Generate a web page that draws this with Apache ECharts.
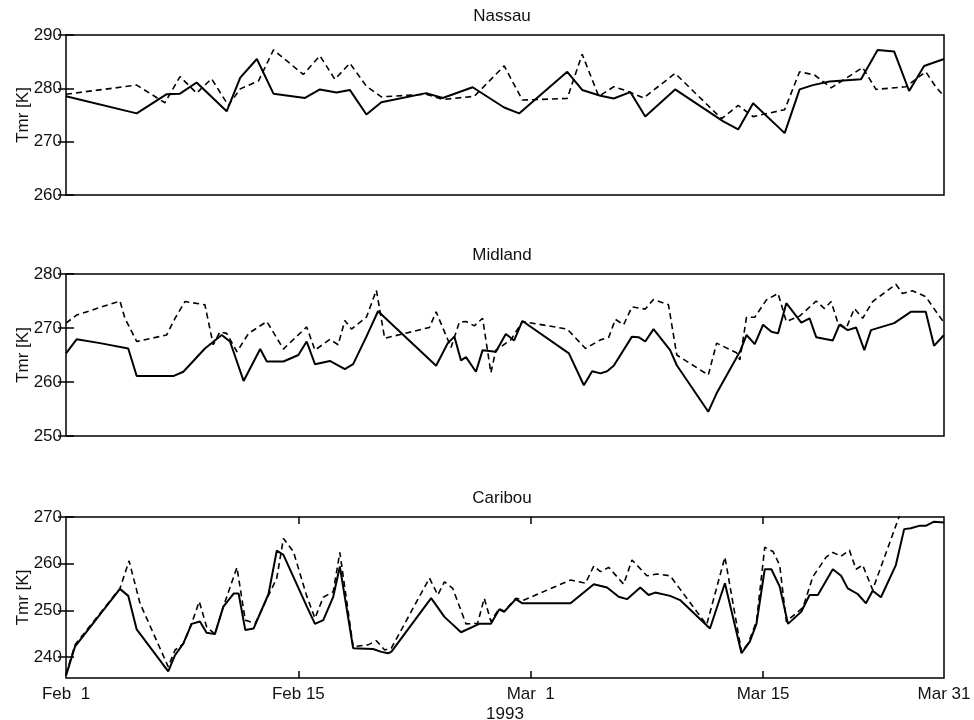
<!DOCTYPE html>
<html>
<head>
<meta charset="utf-8">
<script src="https://cdn.jsdelivr.net/npm/echarts@6/dist/echarts.min.js"></script>
<style>
  html, body { margin: 0; padding: 0; background: #fff; }
  #chart { width: 974px; height: 720px; }
</style>
</head>
<body>
<div id="chart"></div>
<script>
// x = days from Feb 1 1993, as the original axis is scaled
const tickDays = [0, 14, 28, 42, 52.9];
const tickLabels = ['Feb  1', 'Feb 15', 'Mar  1', 'Mar 15', 'Mar 31'];
const xMax = 52.9;

const stations = ['Nassau', 'Midland', 'Caribou'];
const yMins = [260, 250, 235.5];
const yMaxs = [290, 280, 270];
const yTicks = [[260, 270, 280, 290], [250, 260, 270, 280], [240, 250, 260, 270]];

const nassauSolid = [
  [0, 278.5], [4.26, 275.3], [6.07, 278.9], [6.87, 279.0], [7.87, 281.1], [9.68, 275.7],
  [10.5, 282.0], [11.5, 285.5], [12.5, 279.0], [14.4, 278.2], [15.3, 279.8], [16.3, 279.2],
  [17.1, 279.7], [18.1, 275.1], [19.0, 277.4], [21.7, 279.1], [22.7, 278.2], [24.5, 280.2],
  [26.4, 276.4], [27.3, 275.3], [30.2, 283.1], [31.1, 279.7], [32.2, 278.6], [33.0, 278.1],
  [34.0, 279.3], [34.9, 274.7], [36.7, 279.8], [39.6, 273.8], [40.5, 272.3], [41.4, 277.2],
  [43.3, 271.6], [44.2, 279.8], [45.0, 280.6], [46.0, 281.3], [47.9, 281.7], [48.9, 287.2],
  [49.9, 286.9], [50.8, 279.5], [51.7, 284.2], [52.9, 285.5]
];
const nassauDashed = [
  [0, 278.9], [4.26, 280.6], [5.96, 277.3], [6.87, 282.2], [7.87, 279.1], [8.77, 281.8],
  [9.78, 276.8], [10.5, 279.9], [11.6, 281.4], [12.5, 287.2], [14.3, 282.6], [15.3, 286.1],
  [16.2, 281.7], [17.1, 284.7], [18.1, 280.4], [19.0, 278.4], [21.7, 278.9], [22.7, 277.9],
  [24.6, 278.5], [26.4, 284.2], [27.5, 277.8], [30.2, 278.1], [31.1, 286.4], [32.1, 278.5],
  [33.0, 280.3], [33.8, 279.5], [34.8, 278.2], [36.7, 282.8], [39.5, 274.3], [40.5, 276.8],
  [41.4, 274.7], [43.3, 276.0], [44.2, 283.1], [45.1, 282.5], [46.1, 280.1], [48.0, 283.9],
  [48.8, 279.8], [50.6, 280.3], [51.8, 283.1], [52.4, 280.3], [52.9, 278.5]
];

const midlandSolid = [
  [0, 265.3], [0.64, 267.9], [2.05, 267.2], [3.75, 266.2], [4.26, 261.1], [6.46, 261.1],
  [7.07, 261.9], [8.37, 266.2], [9.38, 268.7], [9.88, 267.5], [10.7, 260.2], [11.7, 266.1],
  [12.1, 263.8], [13.1, 263.8], [14.0, 265.0], [14.5, 267.5], [15.0, 263.3], [15.9, 263.9],
  [16.8, 262.4], [17.3, 263.3], [18.1, 268.4], [18.8, 273.1], [22.3, 263.0], [23.0, 267.2],
  [23.4, 268.4], [23.8, 264.0], [24.1, 264.6], [24.7, 261.9], [25.1, 265.9], [25.9, 265.6],
  [26.5, 268.9], [27.0, 267.7], [27.5, 271.3], [30.3, 265.3], [31.2, 259.4], [31.7, 262.0],
  [32.2, 261.6], [32.6, 262.0], [33.0, 263.0], [34.1, 268.4], [34.5, 268.3], [34.9, 267.5],
  [35.4, 269.8], [36.4, 265.9], [36.8, 263.1], [38.7, 254.5], [39.2, 257.9], [40.6, 265.6],
  [41.0, 268.7], [41.5, 267.0], [42.0, 270.6], [42.5, 269.3], [42.9, 269.0], [43.4, 274.6],
  [44.3, 271.0], [44.8, 271.8], [45.2, 268.3], [46.2, 267.7], [46.6, 270.6], [47.1, 269.6],
  [47.6, 270.1], [48.1, 265.9], [48.5, 269.6], [49.9, 270.9], [50.9, 273.0], [51.8, 273.0],
  [52.3, 266.7], [52.9, 268.7]
];
const midlandDashed = [
  [0, 270.9], [0.64, 272.4], [3.25, 275.0], [3.55, 271.8], [4.26, 267.5], [6.06, 268.7],
  [6.57, 271.8], [7.17, 274.9], [8.37, 274.3], [8.87, 266.9], [9.28, 269.3], [9.68, 269.0],
  [10.3, 265.6], [11.0, 269.0], [12.1, 271.2], [13.1, 266.1], [14.5, 270.2], [15.0, 265.9],
  [15.9, 267.9], [16.4, 266.9], [16.8, 271.4], [17.2, 269.8], [18.1, 272.0], [18.7, 277.0],
  [19.2, 268.1], [21.9, 270.1], [22.3, 273.0], [23.2, 266.4], [23.7, 271.1], [24.1, 271.2],
  [24.6, 270.4], [25.1, 271.8], [25.6, 261.7], [25.9, 265.9], [26.8, 267.8], [27.5, 271.2],
  [30.2, 269.8], [31.3, 266.2], [32.2, 267.8], [32.7, 268.3], [33.1, 271.6], [33.6, 270.6],
  [34.1, 273.9], [34.9, 273.5], [35.4, 275.3], [36.3, 274.3], [36.8, 265.0], [38.7, 261.3],
  [39.2, 267.2], [40.4, 265.4], [40.6, 264.1], [41.0, 272.0], [41.5, 272.0], [42.2, 275.2],
  [42.9, 276.4], [43.4, 271.2], [44.2, 272.2], [45.2, 275.0], [45.7, 273.6], [46.1, 274.9],
  [46.5, 271.0], [47.0, 269.9], [47.5, 273.6], [48.0, 271.8], [48.6, 274.9], [50.0, 278.1],
  [50.4, 276.4], [51.0, 276.9], [51.8, 275.8], [52.5, 272.7], [52.9, 271.0]
];

const caribouSolid = [
  [0, 236.0], [0.54, 242.2], [3.25, 254.6], [3.75, 253.1], [4.26, 245.9], [6.16, 236.9],
  [6.57, 240.4], [7.07, 242.9], [7.57, 247.1], [8.07, 247.6], [8.47, 245.2], [8.97, 244.9],
  [9.48, 250.8], [10.1, 253.6], [10.4, 253.6], [10.8, 245.8], [11.3, 246.1], [12.2, 253.5],
  [12.7, 262.8], [13.1, 261.9], [14.5, 250.9], [15.0, 247.1], [15.5, 247.9], [16.1, 252.9],
  [16.5, 259.4], [17.3, 241.9], [18.5, 241.7], [19.0, 241.1], [19.4, 240.8], [19.6, 241.1],
  [22.0, 252.6], [22.8, 248.6], [23.8, 245.3], [24.9, 247.1], [25.6, 247.1], [26.1, 250.2],
  [26.4, 249.7], [27.1, 252.4], [27.5, 251.5], [30.4, 251.5], [31.8, 255.6], [32.6, 254.9],
  [33.3, 252.9], [33.8, 252.4], [34.6, 254.9], [35.1, 253.3], [35.5, 253.8], [36.4, 253.1],
  [37.0, 252.2], [38.8, 246.1], [39.7, 255.8], [40.7, 240.8], [41.2, 243.3], [41.6, 247.1],
  [42.1, 258.8], [42.5, 258.8], [43.0, 255.1], [43.5, 247.1], [44.3, 249.7], [44.8, 253.3],
  [45.3, 253.3], [46.2, 258.8], [46.7, 257.4], [47.1, 254.7], [47.7, 253.5], [48.2, 251.5],
  [48.6, 254.2], [49.1, 252.8], [50.0, 259.7], [50.5, 267.4], [50.9, 267.6], [51.4, 268.1],
  [51.8, 268.1], [52.3, 269.0], [52.9, 268.8]
];
const caribouDashed = [
  [0, 236.3], [0.54, 242.6], [3.25, 254.7], [3.8, 260.6], [4.46, 251.5], [6.16, 237.9],
  [6.57, 241.5], [7.07, 242.8], [7.57, 247.2], [8.03, 251.9], [8.47, 246.5], [8.97, 244.9],
  [9.48, 250.8], [10.3, 259.2], [10.8, 247.9], [11.4, 247.2], [12.2, 253.2], [12.7, 256.9],
  [13.1, 265.4], [13.7, 262.6], [14.5, 253.1], [15.0, 248.3], [15.5, 252.8], [16.1, 254.0],
  [16.5, 262.4], [17.3, 242.2], [18.2, 242.6], [18.7, 243.5], [19.2, 241.5], [19.6, 241.9],
  [21.9, 256.9], [22.4, 253.3], [22.8, 256.1], [23.3, 254.7], [24.1, 247.1], [24.8, 247.2],
  [25.2, 252.6], [25.6, 247.6], [26.1, 250.4], [26.4, 249.8], [27.1, 252.6], [27.6, 252.2],
  [30.4, 256.5], [31.3, 255.8], [31.8, 259.5], [32.2, 258.3], [32.7, 259.2], [33.6, 255.6],
  [34.1, 260.8], [35.0, 257.4], [35.6, 257.8], [36.4, 257.4], [38.6, 246.9], [39.7, 261.4],
  [40.7, 241.1], [41.1, 242.9], [41.6, 247.6], [42.1, 263.5], [42.6, 262.6], [43.0, 259.7],
  [43.4, 247.6], [44.4, 250.6], [45.0, 257.2], [45.8, 261.4], [46.2, 262.4], [46.7, 261.6],
  [47.2, 262.9], [47.6, 258.8], [48.0, 259.7], [48.6, 254.4], [50.2, 270.1], [50.9, 276.0]
];

const solidSets = [nassauSolid, midlandSolid, caribouSolid];
const dashedSets = [nassauDashed, midlandDashed, caribouDashed];

const font = "'Liberation Sans', Arial, sans-serif";
const ink = '#111';
const gridTops = [35, 274, 517];
const gridHeights = [160, 162, 161];
const titleTops = [3, 242, 485];

const chart = echarts.init(document.getElementById('chart'));

const grid = [], xAxis = [], yAxis = [], series = [], title = [];

stations.forEach((name, i) => {
  const last = i === 2;
  grid.push({
    left: 66, right: 30, top: gridTops[i], height: gridHeights[i],
    containLabel: false, outerBoundsMode: 'none',
    show: true, borderColor: '#000', borderWidth: 1.5
  });
  title.push({
    text: name, left: 497, top: titleTops[i], textAlign: 'center',
    textStyle: { fontFamily: font, fontSize: 17, fontWeight: 'normal', color: ink }
  });
  // bottom x axis
  xAxis.push({
    type: 'value', gridIndex: i, min: 0, max: xMax,
    axisLine: { show: false },
    splitLine: { show: false },
    axisTick: { show: last, inside: true, length: 7, lineStyle: { color: '#000', width: 1.5 },
      customValues: tickDays.slice(1, 4) },
    axisLabel: {
      show: last, customValues: tickDays, margin: 8,
      fontFamily: font, fontSize: 17, color: ink,
      formatter: v => tickLabels[tickDays.indexOf(v)] || ''
    },
    name: last ? '1993' : '', nameLocation: 'middle', nameGap: 28, nameMoveOverlap: false,
    nameTextStyle: { fontFamily: font, fontSize: 17, color: ink }
  });
  // top x axis, ticks only
  xAxis.push({
    type: 'value', gridIndex: i, position: 'top', min: 0, max: xMax,
    axisLine: { show: false }, splitLine: { show: false }, axisLabel: { show: false },
    axisTick: { show: last, inside: true, length: 7, lineStyle: { color: '#000', width: 1.5 },
      customValues: tickDays.slice(1, 4) }
  });
  yAxis.push({
    type: 'value', gridIndex: i, min: yMins[i], max: yMaxs[i],
    axisLine: { show: false }, splitLine: { show: false },
    axisTick: { show: true, inside: true, length: 8, lineStyle: { color: '#000', width: 1.5 },
      customValues: yTicks[i] },
    axisLabel: { customValues: yTicks[i], margin: 4, fontFamily: font, fontSize: 17, color: ink },
    name: 'Tmr [K]', nameLocation: 'middle', nameGap: 34, nameMoveOverlap: false,
    nameTextStyle: { fontFamily: font, fontSize: 17, color: ink }
  });
  yAxis.push({
    type: 'value', gridIndex: i, position: 'right', min: yMins[i], max: yMaxs[i],
    axisLine: { show: false }, splitLine: { show: false }, axisLabel: { show: false },
    axisTick: { show: true, inside: true, length: 8, lineStyle: { color: '#000', width: 1.5 },
      customValues: yTicks[i] }
  });
  series.push({
    type: 'line', xAxisIndex: i * 2, yAxisIndex: i * 2, data: solidSets[i],
    showSymbol: false, clip: true, animation: false,
    lineStyle: { color: '#000', width: 2 }
  });
  series.push({
    type: 'line', xAxisIndex: i * 2, yAxisIndex: i * 2, data: dashedSets[i],
    showSymbol: false, clip: true, animation: false,
    lineStyle: { color: '#000', width: 1.6, type: [6, 4] }
  });
});

chart.setOption({
  backgroundColor: '#fff',
  animation: false,
  title, grid, xAxis, yAxis, series
});
</script>
</body>
</html>
